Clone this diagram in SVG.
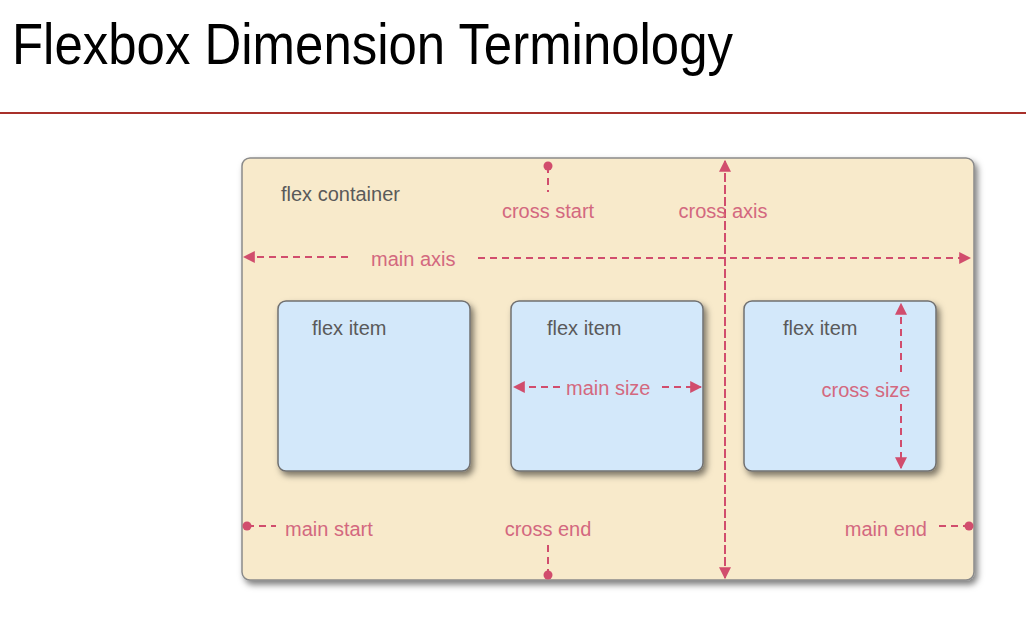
<svg xmlns="http://www.w3.org/2000/svg" width="1026" height="622" viewBox="0 0 1026 622">
<defs>
<filter id="sh" x="-10%" y="-10%" width="125%" height="125%">
<feDropShadow dx="3" dy="4" stdDeviation="3" flood-color="#000" flood-opacity="0.5"/>
</filter>
<marker id="ah" viewBox="0 0 10 10" refX="9" refY="5" markerWidth="12" markerHeight="12" markerUnits="userSpaceOnUse" orient="auto-start-reverse">
<path d="M0,0 L10,5 L0,10 Z" fill="#d14d6d"/>
</marker>
</defs>
<style>
.lbl{font-family:"Liberation Sans",Arial,sans-serif;font-size:20px;fill:#d3687f}
.gray{font-family:"Liberation Sans",Arial,sans-serif;font-size:20px;fill:#5a5a5a}
.dash{stroke:#d14d6d;stroke-width:2;stroke-dasharray:7 5;fill:none}
.dot{fill:#d14d6d}
.item{fill:#d3e8fa;stroke:#707070;stroke-width:1.5;filter:url(#sh)}
</style>
<rect width="1026" height="622" fill="#fff"/>
<text x="12" y="64" font-family="'Liberation Sans',Arial,sans-serif" font-size="58" fill="#000" textLength="721" lengthAdjust="spacingAndGlyphs">Flexbox Dimension Terminology</text>
<rect x="0" y="112" width="1026" height="2" fill="#a8302a"/>
<g id="container">
<rect x="242" y="158" width="732" height="422" rx="8" fill="#f8eacb" stroke="#8a8a8a" stroke-width="1.5" filter="url(#sh)"/>
<text class="gray" x="281" y="201">flex container</text>
</g>
<g id="item1">
<rect class="item" x="278" y="301" width="192" height="170" rx="8"/>
<text class="gray" x="312" y="335">flex item</text>
</g>
<g id="item2">
<rect class="item" x="511" y="301" width="192" height="170" rx="8"/>
<text class="gray" x="547" y="335">flex item</text>
</g>
<g id="item3">
<rect class="item" x="744" y="301" width="192" height="170" rx="8"/>
<text class="gray" x="783" y="335">flex item</text>
</g>
<g id="connectors">
<line class="dash" x1="348" y1="257" x2="244" y2="257" marker-end="url(#ah)"/>
<line class="dash" x1="478" y1="258" x2="970" y2="258" marker-end="url(#ah)"/>
<line class="dash" x1="725" y1="578" x2="725" y2="161" marker-end="url(#ah)"/>
<line class="dash" x1="725" y1="161" x2="725" y2="578" marker-end="url(#ah)"/>
<line class="dash" x1="548" y1="166" x2="548" y2="192" stroke-dasharray="6 4"/>
<circle class="dot" cx="548" cy="166" r="4.5"/>
<line class="dash" x1="548" y1="545" x2="548" y2="575" stroke-dasharray="6 4"/>
<circle class="dot" cx="548" cy="575" r="4.5"/>
<line class="dash" x1="247" y1="526" x2="276" y2="526" stroke-dasharray="6 4"/>
<circle class="dot" cx="247" cy="526" r="4.5"/>
<line class="dash" x1="939" y1="526" x2="969" y2="526" stroke-dasharray="6 4"/>
<circle class="dot" cx="969" cy="526" r="4.5"/>
<line class="dash" x1="560" y1="387" x2="514" y2="387" marker-end="url(#ah)" stroke-dasharray="6 4"/>
<line class="dash" x1="662" y1="387" x2="701" y2="387" marker-end="url(#ah)" stroke-dasharray="6 4"/>
<line class="dash" x1="901" y1="372" x2="901" y2="304" marker-end="url(#ah)" stroke-dasharray="6 4"/>
<line class="dash" x1="901" y1="404" x2="901" y2="468" marker-end="url(#ah)" stroke-dasharray="6 4"/>
</g>
<g id="labels">
<text class="lbl" x="548" y="218" text-anchor="middle">cross start</text>
<text class="lbl" x="723" y="218" text-anchor="middle">cross axis</text>
<text class="lbl" x="371" y="266">main axis</text>
<text class="lbl" x="566" y="395">main size</text>
<text class="lbl" x="866" y="397" text-anchor="middle">cross size</text>
<text class="lbl" x="285" y="536">main start</text>
<text class="lbl" x="548" y="536" text-anchor="middle">cross end</text>
<text class="lbl" x="927" y="536" text-anchor="end">main end</text>
</g>
</svg>
